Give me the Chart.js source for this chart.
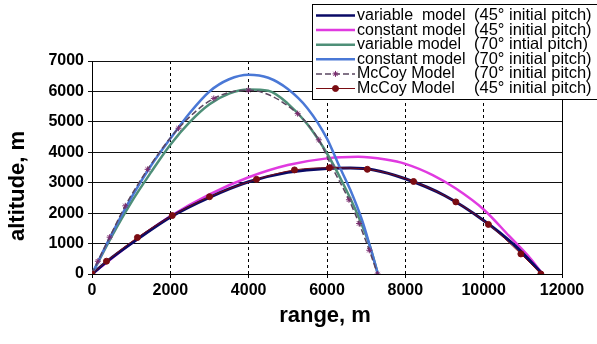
<!DOCTYPE html>
<html lang="en">
<head>
    <meta charset="UTF-8">
    <title>Trajectory comparison</title>
    <script src="https://cdn.jsdelivr.net/npm/chart.js"></script>
    <style>
        body { margin: 0; background: #fff; }
        .chart-container { width: 597px; height: 344px; }
    </style>
</head>
<body>
    <div class="chart-container"><canvas id="trajChart"></canvas></div>

    <script>
        var seriesNames = ['variable  model', 'constant model', 'variable model', 'constant model', 'McCoy Model', 'McCoy Model'];
        var seriesPitch = ['(45\u00b0 initial pitch)', '(45\u00b0 initial pitch)', '(70\u00b0 intial pitch)', '(70\u00b0 initial pitch)', '(70\u00b0 initial pitch)', '(45\u00b0 initial pitch)'];

        var xTicks = [0, 2000, 4000, 6000, 8000, 10000, 12000];
        var yTicks = [0, 1000, 2000, 3000, 4000, 5000, 6000, 7000];
        var xTitle = 'range, m';
        var yTitle = 'altitude, m';

        var variable45Range = [0, 400, 1000, 2000, 3000, 4000, 5000, 6000, 6600, 7200, 8000, 9000, 10000, 10800, 11500];
        var variable45Alt = [0, 430, 1000, 1870, 2520, 3030, 3340, 3470, 3480, 3420, 3130, 2580, 1760, 930, 0];

        var constant45Range = [0, 1000, 2000, 3000, 4000, 5000, 6000, 6800, 7500, 8000, 8700, 9300, 10000, 10650, 11200, 11500];
        var constant45Alt = [0, 1000, 1900, 2620, 3180, 3580, 3800, 3850, 3760, 3620, 3250, 2800, 2120, 1250, 500, 0];

        var variable70Range = [0, 500, 1000, 1500, 2000, 2500, 3000, 3500, 4000, 4500, 5000, 5500, 6000, 6400, 6800, 7100, 7300];
        var variable70Alt = [0, 1230, 2350, 3330, 4250, 5000, 5580, 5930, 6060, 6020, 5600, 4920, 3960, 3000, 1900, 900, 0];

        var constant70Range = [0, 500, 1000, 1500, 2000, 2500, 3000, 3500, 4000, 4500, 5000, 5500, 6000, 6300, 6600, 6900, 7100, 7300];
        var constant70Alt = [0, 1300, 2500, 3550, 4450, 5300, 6000, 6400, 6550, 6450, 6080, 5450, 4450, 3580, 2750, 1750, 900, 0];

        var mccoy70Range = [0, 150, 450, 850, 1420, 2210, 3110, 3990, 5250, 5790, 6120, 6560, 6820, 7080, 7290];
        var mccoy70Alt = [0, 420, 1210, 2240, 3440, 4790, 5770, 6040, 5270, 4410, 3530, 2440, 1660, 780, 0];

        var mccoy45Range = [0, 370, 1160, 2050, 3000, 4200, 5170, 6060, 7030, 8210, 9290, 10120, 10950, 11460];
        var mccoy45Alt = [0, 420, 1200, 1920, 2540, 3110, 3420, 3490, 3440, 3040, 2370, 1630, 660, 0];

        var fontFamily = "'Liberation Sans', Arial, sans-serif";
        Chart.defaults.font.family = fontFamily;
        Chart.defaults.color = '#000';

        function toPoints(xs, ys) {
            return xs.map(function (x, i) { return {x: x, y: ys[i]}; });
        }

        // legend box sits on top of the plot, like the original
        var boxLegend = {
            id: 'boxLegend',
            afterDraw: function (chart) {
                var ctx = chart.ctx;
                ctx.save();
                ctx.fillStyle = '#fff';
                ctx.fillRect(312.5, 4.5, 290, 95);
                ctx.strokeStyle = '#000';
                ctx.lineWidth = 1;
                ctx.strokeRect(312.5, 4.5, 290, 95);
                ctx.textBaseline = 'middle';
                chart.data.datasets.forEach(function (ds, i) {
                    var y = 15.5 + i * 14.6;
                    ctx.strokeStyle = ds.borderColor;
                    ctx.lineWidth = Math.min(ds.borderWidth, 2.5);
                    ctx.setLineDash(ds.borderDash || []);
                    ctx.beginPath();
                    ctx.moveTo(316, y);
                    ctx.lineTo(355, y);
                    ctx.stroke();
                    ctx.setLineDash([]);
                    if (ds.pointRadius > 0) {
                        ctx.fillStyle = ds.pointBackgroundColor;
                        ctx.strokeStyle = ds.pointBorderColor;
                        ctx.lineWidth = ds.pointBorderWidth;
                        Chart.helpers.drawPoint(ctx, {pointStyle: ds.pointStyle, radius: ds.pointRadius, borderWidth: ds.pointBorderWidth, rotation: 0}, 335.5, y);
                    }
                    ctx.fillStyle = '#000';
                    ctx.font = '16px ' + fontFamily;
                    ctx.fillText(seriesNames[i], 357, y);
                    ctx.font = '16.5px ' + fontFamily;
                    ctx.fillText(seriesPitch[i], 474, y);
                });
                ctx.restore();
            }
        };

        var axisTitles = {
            id: 'axisTitles',
            afterDraw: function (chart) {
                var ctx = chart.ctx;
                var area = chart.chartArea;
                ctx.save();
                ctx.fillStyle = '#000';
                ctx.font = 'bold 22px ' + fontFamily;
                ctx.textAlign = 'center';
                ctx.textBaseline = 'middle';
                ctx.fillText(xTitle, (area.left + area.right) / 2 - 2, 316);
                ctx.translate(18, 186);
                ctx.rotate(-Math.PI / 2);
                ctx.fillText(yTitle, 0, 0);
                ctx.restore();
            }
        };

        var ctx = document.getElementById('trajChart').getContext('2d');
        var trajChart = new Chart(ctx, {
            type: 'scatter',
            data: {
                datasets: [{
                    label: seriesNames[0],
                    data: toPoints(variable45Range, variable45Alt),
                    borderColor: '#0a0a66',
                    borderWidth: 3,
                    pointRadius: 0,
                    order: 4
                }, {
                    label: seriesNames[1],
                    data: toPoints(constant45Range, constant45Alt),
                    borderColor: '#e03ae0',
                    borderWidth: 2.5,
                    pointRadius: 0,
                    order: 5
                }, {
                    label: seriesNames[2],
                    data: toPoints(variable70Range, variable70Alt),
                    borderColor: '#4e8f78',
                    borderWidth: 2.5,
                    pointRadius: 0,
                    order: 3
                }, {
                    label: seriesNames[3],
                    data: toPoints(constant70Range, constant70Alt),
                    borderColor: '#4a78d6',
                    borderWidth: 2.5,
                    pointRadius: 0,
                    order: 2
                }, {
                    label: seriesNames[4],
                    data: toPoints(mccoy70Range, mccoy70Alt),
                    borderColor: '#5a4660',
                    borderWidth: 1.5,
                    borderDash: [6, 3],
                    pointStyle: 'star',
                    pointRadius: 3,
                    pointBorderWidth: 1,
                    pointBorderColor: '#7a2a6e',
                    pointBackgroundColor: '#7a2a6e',
                    order: 1
                }, {
                    label: seriesNames[5],
                    data: toPoints(mccoy45Range, mccoy45Alt),
                    borderColor: '#7a0c12',
                    borderWidth: 1,
                    pointStyle: 'circle',
                    pointRadius: 3,
                    pointBorderWidth: 1,
                    pointBorderColor: '#7a0c12',
                    pointBackgroundColor: '#7a0c12',
                    order: 0
                }].map(function (ds) {
                    ds.showLine = true;
                    ds.cubicInterpolationMode = 'monotone';
                    ds.fill = false;
                    return ds;
                })
            },
            options: {
                responsive: true,
                maintainAspectRatio: false,
                animation: false,
                layout: {padding: {top: 61, right: 35, left: 0, bottom: 0}},
                plugins: {
                    legend: {display: false},
                    tooltip: {enabled: false}
                },
                scales: {
                    x: {
                        type: 'linear',
                        min: xTicks[0],
                        max: xTicks[xTicks.length - 1],
                        afterFit: function (scale) { scale.height = 70; },
                        afterBuildTicks: function (scale) {
                            scale.ticks = xTicks.map(function (v) { return {value: v}; });
                        },
                        ticks: {
                            autoSkip: false,
                            maxRotation: 0,
                            padding: 3,
                            font: {size: 16, weight: 'bold'},
                            callback: function (v) { return String(v); }
                        },
                        grid: {color: '#000', lineWidth: 1, tickLength: 4},
                        border: {
                            color: '#000',
                            dash: function (c) {
                                var v = c.tick ? c.tick.value : 0;
                                return (v > xTicks[0] && v < xTicks[xTicks.length - 1]) ? [3, 3] : [];
                            }
                        }
                    },
                    y: {
                        type: 'linear',
                        min: yTicks[0],
                        max: yTicks[yTicks.length - 1],
                        afterFit: function (scale) { scale.width = 92; },
                        afterBuildTicks: function (scale) {
                            scale.ticks = yTicks.map(function (v) { return {value: v}; });
                        },
                        ticks: {
                            padding: 4,
                            font: {size: 16, weight: 'bold'},
                            callback: function (v) { return String(v); }
                        },
                        grid: {color: '#111', lineWidth: 1, tickLength: 4},
                        border: {color: '#000'}
                    }
                }
            },
            plugins: [boxLegend, axisTitles]
        });
    </script>
</body>
</html>
